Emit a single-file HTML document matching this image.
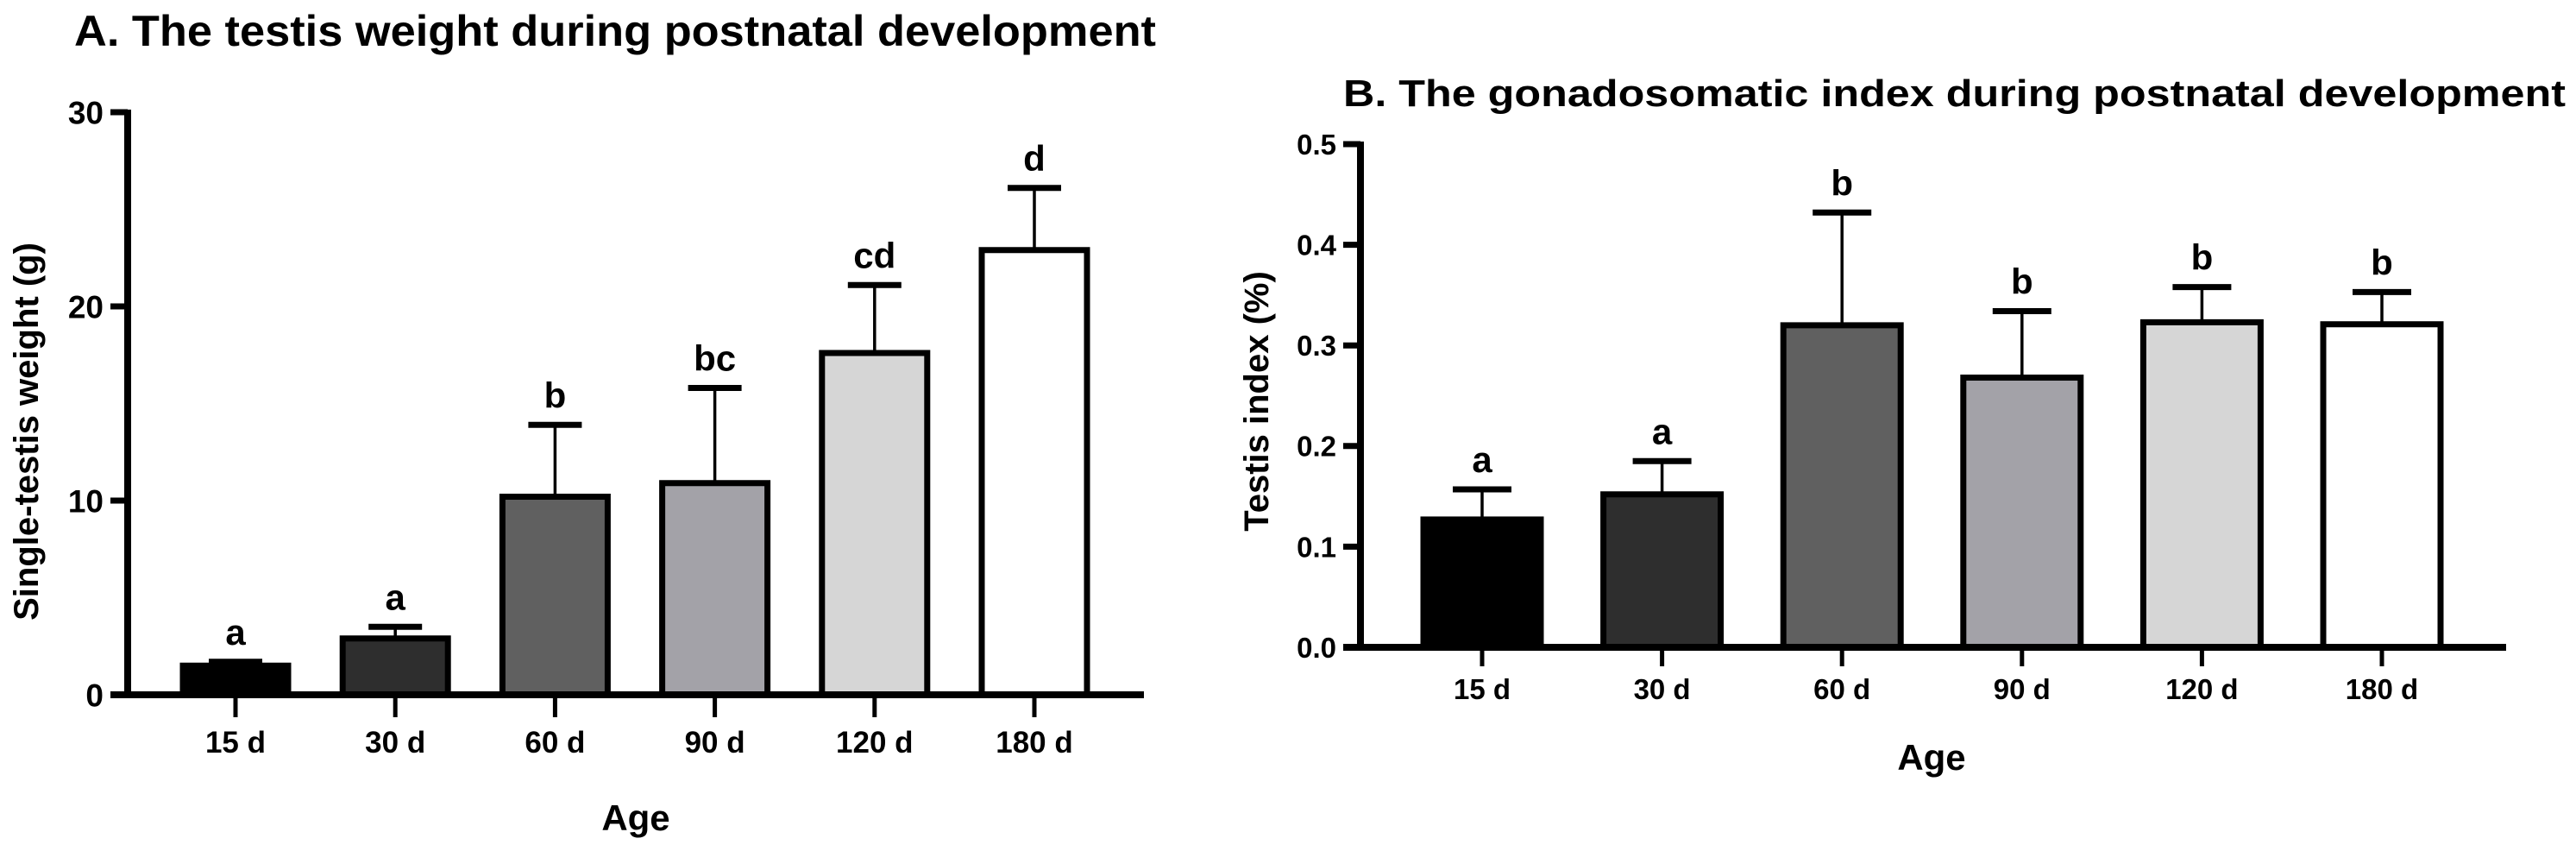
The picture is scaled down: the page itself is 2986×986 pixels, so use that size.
<!DOCTYPE html>
<html><head><meta charset="utf-8"><style>
html,body{margin:0;padding:0;background:#fff;}
svg{display:block;font-family:"Liberation Sans",Arial,sans-serif;font-weight:bold;}
</style></head><body>
<svg id="chart" width="2986" height="986" viewBox="0 0 2986 986" xmlns="http://www.w3.org/2000/svg">
<text x="86" y="53" font-size="50" textLength="1254" lengthAdjust="spacingAndGlyphs">A. The testis weight during postnatal development</text>
<text x="1557" y="123" font-size="44" textLength="1417" lengthAdjust="spacingAndGlyphs">B. The gonadosomatic index during postnatal development</text>
<g id="pa"></g>
<g id="pb"></g>
</svg>
<script>
const categories = ["15 d","30 d","60 d","90 d","120 d","180 d"];
const weightMeans = [1.5, 2.9, 10.2, 10.9, 17.6, 22.9];
const weightErrTops = [1.7, 3.5, 13.9, 15.8, 21.1, 26.1];
const weightLetters = ["a","a","b","bc","cd","d"];
const weightTicks = [0, 10, 20, 30];
const weightTickLabels = ["0","10","20","30"];
const gsiMeans = [0.127, 0.152, 0.320, 0.268, 0.323, 0.321];
const gsiErrTops = [0.157, 0.185, 0.432, 0.334, 0.358, 0.353];
const gsiLetters = ["a","a","b","b","b","b"];
const gsiTicks = [0, 0.1, 0.2, 0.3, 0.4, 0.5];
const gsiTickLabels = ["0.0","0.1","0.2","0.3","0.4","0.5"];
const fills = ["#000000","#2e2e2e","#606060","#a3a2a8","#d6d6d6","#ffffff"];

const NS = "http://www.w3.org/2000/svg";
function mk(parent, tag, attrs, text){
  const e = document.createElementNS(NS, tag);
  for (const k in attrs) e.setAttribute(k, attrs[k]);
  if (text !== undefined) e.textContent = text;
  parent.appendChild(e);
  return e;
}

function drawPanel(g, cfg){
  const y = v => cfg.y0 - (v - cfg.vmin) / (cfg.vmax - cfg.vmin) * (cfg.y0 - cfg.yTop);
  const x = i => cfg.xFirst + i * cfg.step;
  // bars
  cfg.means.forEach((m, i) => {
    const r = mk(g, "rect", {x: x(i) - cfg.bw/2, y: y(m), width: cfg.bw, height: y(cfg.vmin) - y(m), fill: fills[i], stroke: "#000", "stroke-width": 7});
    
    
    const ln = mk(g, "line", {x1: x(i), x2: x(i), y1: y(m) - 3, y2: y(cfg.errs[i]), stroke: "#000", "stroke-width": 3.5});
    
    
    const cap = mk(g, "line", {x1: x(i) - cfg.cw/2, x2: x(i) + cfg.cw/2, y1: y(cfg.errs[i]), y2: y(cfg.errs[i]), stroke: "#000", "stroke-width": 7});
    
    
    const lt = mk(g, "text", {x: x(i), y: y(cfg.errs[i]) - 20, "font-size": 42, "text-anchor": "middle"}, cfg.letters[i]);
    
    
    const tk = mk(g, "line", {x1: x(i), x2: x(i), y1: cfg.y0, y2: cfg.y0 + cfg.tickLen, stroke: "#000", "stroke-width": 5});
    
    
    const tl = mk(g, "text", {x: x(i), y: cfg.xLabelY, "font-size": cfg.tfs, "text-anchor": "middle"}, categories[i]);
    
    
  });
  // axes
  const ya = mk(g, "line", {x1: cfg.ax, x2: cfg.ax, y1: cfg.yTop - 3, y2: cfg.y0 + 4, stroke: "#000", "stroke-width": 8});
  
  
  const xa = mk(g, "line", {x1: cfg.ax - 20, x2: cfg.xEnd, y1: cfg.y0, y2: cfg.y0, stroke: "#000", "stroke-width": 8});
  
  
  cfg.ticks.forEach((t, j) => {
    const tk = mk(g, "line", {x1: cfg.ax - 20, x2: cfg.ax, y1: y(t), y2: y(t), stroke: "#000", "stroke-width": 7});
    
    
    const tl = mk(g, "text", {x: cfg.ax - 28, y: y(t) + cfg.yfs*0.36, "font-size": cfg.yfs, "text-anchor": "end"}, cfg.tickLabels[j]);
    
    
  });
  const yt = mk(g, "text", {x: 0, y: 0, "font-size": 40, "text-anchor": "middle", transform: `translate(${cfg.ytx},${cfg.yty}) rotate(-90)`}, cfg.ytitle);
  
  
  const xt = mk(g, "text", {x: cfg.xtx, y: cfg.xty, "font-size": 42, "text-anchor": "middle"}, "Age");
  
  
}

drawPanel(document.getElementById("pa"), {
  means: weightMeans, errs: weightErrTops, letters: weightLetters, ticks: weightTicks, tickLabels: weightTickLabels,
  vmin: 0, vmax: 30, y0: 805, yTop: 130, ax: 148, xFirst: 273, step: 185.2, bw: 122, cw: 62,
  xEnd: 1326, tickLen: 26, xLabelY: 872, tfs: 35, yfs: 37, ytitle: "Single-testis weight (g)",
  ytx: 44, yty: 500, xtx: 737, xty: 962
});
drawPanel(document.getElementById("pb"), {
  means: gsiMeans, errs: gsiErrTops, letters: gsiLetters, ticks: gsiTicks, tickLabels: gsiTickLabels,
  vmin: 0, vmax: 0.5, y0: 750, yTop: 167, ax: 1577, xFirst: 1718, step: 208.6, bw: 136, cw: 68,
  xEnd: 2905, tickLen: 22, xLabelY: 810, tfs: 33, yfs: 33, ytitle: "Testis index (%)",
  ytx: 1470, yty: 465, xtx: 2239, xty: 892
});
</script>
</body></html>
